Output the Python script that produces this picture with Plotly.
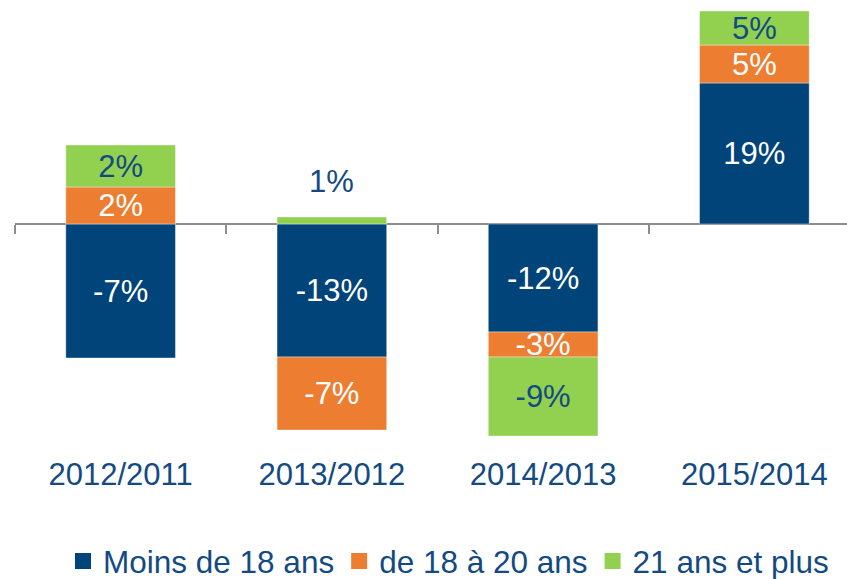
import plotly.graph_objects as go

# ---- data ----
categories = ["2012/2011", "2013/2012", "2014/2013", "2015/2014"]
series_names = ["Moins de 18 ans", "de 18 à 20 ans", "21 ans et plus"]

# bar lengths as drawn in the picture (relative units; the drawn lengths
# do not track the printed percentages, so both are kept)
moins_18 = [-13.4, -13.3, -10.8, 14.1]
de_18_20 = [3.7, -7.3, -2.5, 3.8]
plus_21 = [4.2, 0.7, -7.9, 3.4]

# printed labels
moins_18_labels = ["-7%", "-13%", "-12%", "19%"]
de_18_20_labels = ["2%", "-7%", "-3%", "5%"]
plus_21_labels = ["2%", "1%", "-9%", "5%"]
plus_21_label_pos = ["inside", "above", "inside", "inside"]

# ---- styling ----
FONT = "Liberation Sans, Arial, sans-serif"
BLUE = "#00447A"
ORANGE = "#ED7D31"
GREEN = "#92D050"
TEXT = "#134A82"
AXIS = "#8C8C8C"
LABEL_SIZE = 31

W, H = 847, 579
plot_left = 15
plot_top_value = 22.4          # value at the top edge of the plot area
px_per_unit = 10.0
plot_bottom_px = 453
plot_h = plot_bottom_px
y_range = [plot_top_value - plot_h / px_per_unit, plot_top_value]
zero_pos = (0 - y_range[0]) / (y_range[1] - y_range[0])
x_range = [-0.5, 3.4385]
legend_center_px = 561
legend_y = -(legend_center_px - plot_bottom_px) / plot_h

fig = go.Figure()

def add_series(name, vals, labels, color, inside_color):
    fig.add_trace(go.Bar(
        name=name,
        x=categories,
        y=vals,
        text=labels,
        texttemplate="%{text}",
        textposition="inside",
        insidetextanchor="middle",
        constraintext="none",
        insidetextfont=dict(family=FONT, size=LABEL_SIZE, color=inside_color),
        marker=dict(color=color, line=dict(color="rgba(255,255,255,0.55)", width=0.7)),
        cliponaxis=False,
        hoverinfo="skip",
        showlegend=False,
    ))
    # legend entry with a larger square key
    fig.add_trace(go.Scatter(
        name=name, x=[None], y=[None], mode="markers",
        marker=dict(symbol="square", size=17, color=color, line=dict(width=0)),
        hoverinfo="skip", showlegend=True,
    ))

add_series(series_names[0], moins_18, moins_18_labels, BLUE, "white")
add_series(series_names[1], de_18_20, de_18_20_labels, ORANGE, "white")
add_series(series_names[2], plus_21,
           [t if p == "inside" else "" for t, p in zip(plus_21_labels, plus_21_label_pos)],
           GREEN, TEXT)

# labels placed above a too-small bar
for cat, val, lab, pos in zip(categories, plus_21, plus_21_labels, plus_21_label_pos):
    if pos == "above":
        fig.add_annotation(x=cat, y=val, text=lab, showarrow=False,
                           yanchor="middle", yshift=36,
                           font=dict(family=FONT, size=LABEL_SIZE, color=TEXT))

# helper trace so the zero-level axis knows the categories
fig.add_trace(go.Scatter(x=categories, y=[None] * len(categories), xaxis="x2",
                         showlegend=False, hoverinfo="skip", mode="markers"))

fig.update_layout(
    width=W, height=H,
    margin=dict(l=plot_left, r=0, t=0, b=H - plot_bottom_px, pad=0, autoexpand=False),
    paper_bgcolor="white", plot_bgcolor="white",
    barmode="relative",
    bargap=0.481,
    font=dict(family=FONT, color=TEXT),
    xaxis=dict(
        type="category", categoryarray=categories, range=x_range,
        showline=False, ticks="", showgrid=False, zeroline=False,
        tickfont=dict(family=FONT, size=LABEL_SIZE, color=TEXT),
    ),
    xaxis2=dict(
        type="category", categoryarray=categories, range=x_range,
        overlaying="x", anchor="free", position=zero_pos,
        showline=True, linecolor=AXIS, linewidth=1.6,
        ticks="outside", tickson="boundaries", ticklen=9, tickwidth=1.5, tickcolor=AXIS,
        showticklabels=False, showgrid=False, zeroline=False, layer="below traces",
    ),
    yaxis=dict(range=y_range, visible=False, showgrid=False, zeroline=False),
    legend=dict(
        orientation="h",
        x=0.0577, xanchor="left",
        y=legend_y, yanchor="middle",
        font=dict(family=FONT, size=31.5, color=TEXT),
        itemclick=False, itemdoubleclick=False,
        bgcolor="rgba(0,0,0,0)",
    ),
    showlegend=True,
)

fig.write_html("out.html", config={"displayModeBar": False},
               post_script="document.body.style.margin='0';")
